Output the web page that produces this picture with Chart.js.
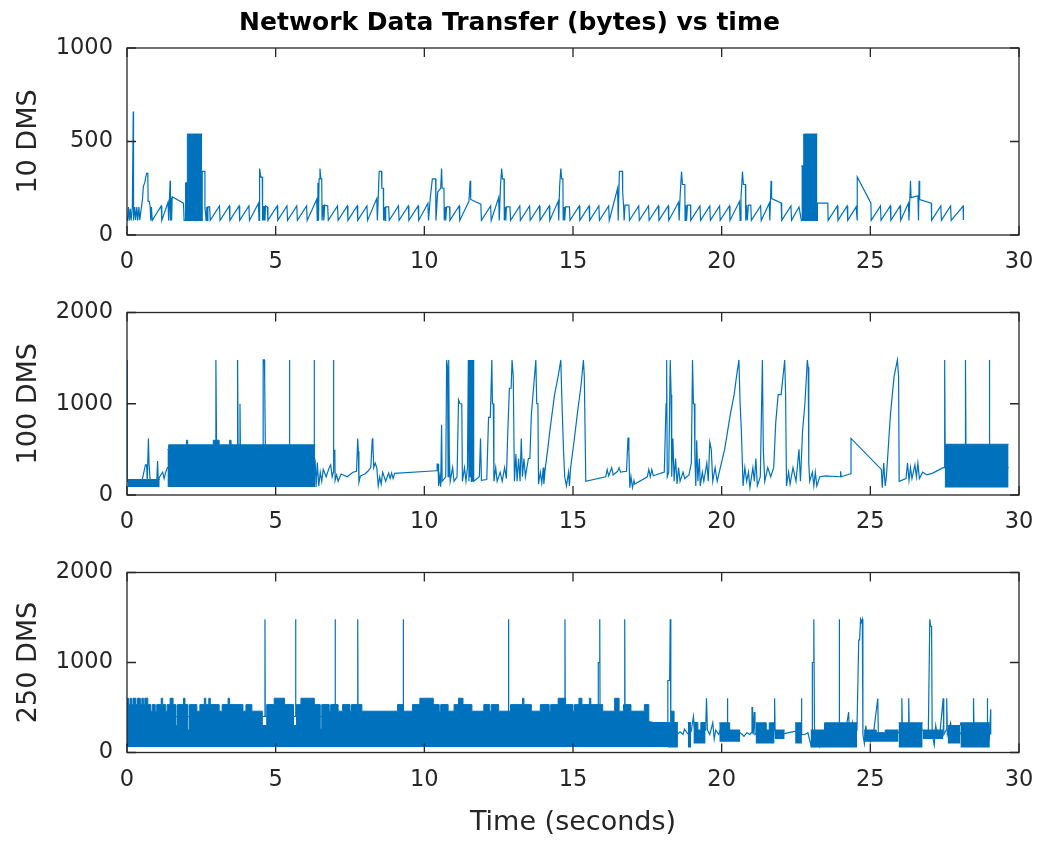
<!DOCTYPE html>
<html lang="en">

<head>
  <meta charset="UTF-8">
  <title>Network Data Transfer (bytes) vs time</title>
  <script src="https://cdn.jsdelivr.net/npm/chart.js"></script>
  <style>
    body {
      margin: 0;
      background: #fff;
      overflow: hidden;
    }

    #wrap {
      position: relative;
      width: 1039px;
      height: 841px;
      overflow: hidden;
    }

    #wrap canvas {
      position: absolute;
      left: 0;
    }
  </style>
</head>

<body>
  <div id="wrap">
    <canvas id="plot10" width="1146" height="285" style="top:0"></canvas>
    <canvas id="plot100" width="1146" height="260" style="top:285px"></canvas>
    <canvas id="plot250" width="1146" height="296" style="top:545px"></canvas>
  </div>
  <script>
    // time (s), bytes
    const dms10 = [
      [0, 100], [0.02, 75], [0.05, 150], [0.08, 78], [0.11, 140], [0.14, 78], [0.18, 150], [0.21, 660], [0.22, 78], [0.26, 150], [0.29, 80], [0.33, 150], [0.36, 78], [0.4, 150], [0.43, 80], [0.47, 130], [0.52, 190], [0.55, 260], [0.6, 280], [0.62, 300], [0.66, 330], [0.7, 330], [0.71, 180], [0.75, 180], [0.78, 150], [0.8, 78], [0.82, 150], [0.84, 150], [0.85, 78],
      [1.15, 155], [1.17, 78], [1.38, 175], [1.4, 78], [1.43, 200], [1.45, 290], [1.46, 78], [1.48, 200], [1.5, 78], [1.52, 205], [1.9, 170], [1.92, 78], [1.97, 78], [1.97, 280], [2.0, 78], [2.53, 78], [2.53, 340], [2.62, 340], [2.62, 150], [2.66, 78], [2.68, 150], [2.7, 78], [2.72, 150], [2.78, 150], [2.8, 78],
      [3.11, 155], [3.13, 78], [3.44, 155], [3.46, 78], [3.77, 155], [3.79, 78], [4.1, 155], [4.12, 78], [4.42, 170], [4.44, 78], [4.45, 175], [4.47, 355], [4.5, 310], [4.55, 310], [4.56, 78], [4.58, 155], [4.6, 78], [4.62, 155], [4.64, 78], [4.66, 155], [4.72, 150], [4.74, 78],
      [5.05, 155], [5.07, 78], [5.38, 155], [5.4, 78], [5.71, 155], [5.73, 78], [6.04, 155], [6.06, 78], [6.38, 190], [6.4, 78], [6.42, 280], [6.44, 78], [6.46, 300], [6.49, 355], [6.52, 300], [6.55, 300], [6.56, 78], [6.6, 160], [6.62, 78], [6.65, 160], [6.75, 155], [6.77, 78],
      [7.08, 155], [7.1, 78], [7.41, 155], [7.43, 78], [7.74, 155], [7.76, 78], [8.07, 155], [8.09, 78], [8.4, 195], [8.42, 78], [8.45, 200], [8.48, 340], [8.56, 340], [8.57, 250], [8.62, 250], [8.63, 78], [8.66, 150], [8.68, 78], [8.7, 150], [8.8, 150], [8.82, 78],
      [9.13, 155], [9.15, 78], [9.46, 155], [9.48, 78], [9.79, 155], [9.81, 78], [10.12, 170], [10.14, 78], [10.2, 200], [10.27, 300], [10.38, 300], [10.39, 78], [10.45, 230], [10.55, 250], [10.58, 355], [10.6, 250], [10.66, 250], [10.67, 78], [10.7, 150], [10.72, 78], [10.75, 150], [10.85, 150], [10.86, 78],
      [11.17, 155], [11.19, 78], [11.5, 180], [11.54, 290], [11.56, 190], [11.9, 165], [11.92, 78],
      [12.23, 155], [12.25, 78], [12.5, 200], [12.52, 78], [12.56, 260], [12.6, 355], [12.63, 300], [12.68, 300], [12.69, 78], [12.72, 150], [12.74, 78], [12.76, 150], [12.88, 150], [12.9, 78],
      [13.21, 155], [13.23, 78], [13.54, 155], [13.56, 78], [13.87, 155], [13.89, 78], [14.2, 155], [14.22, 78], [14.5, 180], [14.52, 78], [14.55, 260], [14.59, 355], [14.62, 300], [14.66, 300], [14.67, 78], [14.7, 150], [14.72, 78], [14.75, 150], [14.88, 150], [14.9, 78],
      [15.21, 155], [15.23, 78], [15.54, 155], [15.56, 78], [15.87, 155], [15.89, 78], [16.2, 155], [16.22, 78], [16.5, 250], [16.52, 78], [16.56, 340], [16.66, 340], [16.67, 230], [16.7, 160], [16.72, 78], [16.75, 160], [16.88, 160], [16.9, 78],
      [17.21, 155], [17.23, 78], [17.54, 155], [17.56, 78], [17.87, 155], [17.89, 78], [18.2, 155], [18.22, 78], [18.55, 175], [18.57, 78], [18.6, 200], [18.65, 340], [18.68, 270], [18.76, 270], [18.77, 78], [18.8, 160], [18.82, 78], [18.85, 160], [18.95, 160], [18.96, 78],
      [19.27, 155], [19.29, 78], [19.6, 155], [19.62, 78], [19.93, 155], [19.95, 78], [20.26, 155], [20.28, 78], [20.6, 180], [20.62, 78], [20.65, 200], [20.7, 340], [20.73, 270], [20.8, 270], [20.81, 78], [20.84, 160], [20.86, 78], [20.9, 160], [20.98, 160], [21.0, 78],
      [21.31, 155], [21.33, 78], [21.6, 170], [21.62, 78], [21.64, 180], [21.66, 290], [21.68, 195], [22.0, 172], [22.02, 78],
      [22.33, 155], [22.35, 78], [22.6, 150], [22.68, 78], [23.22, 78], [23.22, 170], [23.57, 170], [23.58, 78],
      [23.89, 155], [23.91, 78], [24.22, 155], [24.24, 78], [24.52, 150], [24.56, 78], [24.56, 310], [25.02, 170], [25.03, 78],
      [25.34, 155], [25.36, 78], [25.67, 155], [25.69, 78], [26.0, 155], [26.02, 78], [26.28, 170], [26.3, 78], [26.33, 200], [26.35, 290], [26.37, 200], [26.6, 210], [26.62, 78], [26.64, 290], [26.66, 190], [27.05, 170], [27.06, 78],
      [27.37, 155], [27.39, 78], [27.7, 155], [27.72, 78], [28.12, 155], [28.13, 80]
    ];
    // solid blocks where samples alternate too fast to separate: [time, upper edge]
    const block10a = [[1.97, 280], [2.03, 540], [2.53, 540]];
    const block10b = [[22.68, 370], [22.76, 540], [23.22, 540]];
    const floor10 = [78, 78];

    const dms100 = [
      [0, 1480], [0.01, 150], [0.5, 150], [0.62, 330], [0.66, 330], [0.68, 150], [0.72, 620], [0.74, 350], [0.78, 150], [1.0, 150], [1.03, 372], [1.05, 160], [1.1, 200], [1.2, 250], [1.25, 180], [1.3, 250], [1.36, 300],
      [2.99, 300], [2.99, 1480], [3.01, 620], [3.03, 300], [3.72, 300], [3.72, 1480], [3.74, 300], [3.8, 300], [3.8, 1000], [3.82, 300], [4.58, 300], [4.58, 1480], [4.62, 1480], [4.63, 1280], [4.66, 300], [5.46, 300], [5.46, 1480], [5.48, 300], [6.29, 300], [6.29, 1480], [6.31, 300],
      [6.33, 350], [6.36, 88], [6.4, 355], [6.45, 100], [6.5, 250], [6.55, 150], [6.6, 280], [6.7, 200], [6.8, 300], [6.85, 330], [6.9, 200], [6.94, 250], [6.94, 1480], [6.96, 489], [6.99, 489], [7.0, 160], [7.05, 220], [7.1, 150], [7.2, 230], [7.4, 200], [7.6, 250], [7.72, 260], [7.76, 620], [7.78, 479], [7.8, 140], [7.85, 210], [8.0, 230], [8.1, 260], [8.2, 300], [8.25, 620], [8.27, 550], [8.3, 300], [8.35, 350], [8.4, 300], [8.45, 100], [8.5, 200], [8.55, 120], [8.6, 250], [8.7, 150], [8.8, 240], [8.85, 180], [8.9, 240], [8.95, 180], [9.0, 238],
      [10.4, 266], [10.43, 266], [10.43, 340], [10.46, 340], [10.48, 100], [10.52, 200], [10.55, 90], [10.58, 769], [10.6, 150], [10.72, 200], [10.75, 1480], [10.78, 1400], [10.8, 200], [10.82, 1480], [10.84, 450], [10.87, 150], [10.95, 300], [11.0, 150], [11.1, 200], [11.15, 1042], [11.2, 1000], [11.26, 1000], [11.28, 150], [11.35, 300], [11.4, 150], [11.45, 300], [11.48, 1480], [11.5, 150], [11.52, 1480], [11.54, 200], [11.56, 1480], [11.58, 150], [11.6, 1480], [11.62, 150], [11.64, 1480], [11.66, 150], [11.85, 200], [11.89, 620], [11.92, 160], [12.1, 170], [12.16, 851], [12.22, 851], [12.27, 1480], [12.29, 1000], [12.32, 1000], [12.34, 150], [12.4, 300], [12.45, 150], [12.55, 250], [12.62, 150], [12.7, 300], [12.76, 180], [12.8, 620], [12.86, 1170], [12.92, 1170], [12.95, 1480], [12.99, 1300], [13.03, 150],
      [13.08, 450], [13.12, 150], [13.17, 400], [13.22, 150], [13.26, 620], [13.3, 200], [13.35, 400], [13.4, 200], [13.5, 400], [13.55, 400], [13.6, 886], [13.63, 1000], [13.68, 1200], [13.75, 1480], [13.78, 1000], [13.82, 1000], [13.84, 120], [13.9, 250], [13.95, 130], [14.0, 300], [14.02, 120], [14.07, 300], [14.15, 500], [14.22, 700], [14.3, 900], [14.38, 1100], [14.5, 1300], [14.59, 1480], [14.63, 1000], [14.68, 500], [14.72, 200], [14.78, 100], [14.85, 250], [14.88, 100], [14.92, 300], [15.04, 600], [15.15, 900], [15.27, 1200], [15.35, 1480], [15.38, 1300], [15.43, 150],
      [16.1, 200], [16.15, 280], [16.2, 210], [16.3, 300], [16.35, 220], [16.5, 260], [16.55, 300], [16.6, 250], [16.8, 260], [16.85, 631], [16.88, 480], [16.91, 80], [16.95, 200], [17.0, 80], [17.05, 160], [17.08, 120], [17.5, 200], [17.55, 280], [17.6, 200], [17.65, 280], [17.7, 210], [18.07, 250], [18.13, 1000], [18.15, 1480], [18.17, 200], [18.22, 250], [18.27, 1480], [18.3, 1100], [18.32, 200], [18.36, 620], [18.4, 150], [18.45, 400], [18.5, 120], [18.55, 300], [18.6, 150], [18.7, 250], [18.76, 180], [18.9, 220], [18.98, 350],
      [19.02, 1480], [19.05, 1000], [19.08, 1000], [19.1, 400], [19.13, 100], [19.16, 600], [19.2, 150], [19.25, 400], [19.28, 100], [19.35, 250], [19.4, 150], [19.5, 350], [19.55, 150], [19.6, 580], [19.65, 500], [19.7, 150], [19.78, 300], [19.85, 150], [19.92, 250], [20.1, 500], [20.2, 700], [20.3, 900], [20.42, 1100], [20.5, 1300], [20.58, 1480], [20.62, 1000], [20.66, 727], [20.72, 100], [20.78, 300], [20.84, 150], [20.9, 250], [20.95, 80], [21.05, 300], [21.1, 150], [21.15, 400], [21.2, 100], [21.3, 200], [21.37, 1480], [21.4, 500], [21.45, 150], [21.55, 300], [21.65, 200], [21.75, 300], [21.82, 800], [21.9, 1100], [22.0, 1100], [22.12, 1480], [22.15, 1100], [22.18, 100],
      [22.25, 250], [22.3, 120], [22.4, 300], [22.5, 150], [22.6, 500], [22.65, 150], [22.72, 700], [22.8, 1000], [22.88, 1480], [22.91, 1400], [22.93, 350], [22.96, 150], [23.05, 250], [23.1, 100], [23.15, 250], [23.2, 100], [23.3, 200], [23.5, 210], [23.98, 200], [24.0, 260], [24.02, 200], [24.3, 230], [24.35, 230], [24.35, 620], [25.37, 280], [25.4, 80], [25.45, 350], [25.5, 100], [25.54, 200], [25.6, 500], [25.68, 900], [25.74, 1100], [25.8, 1300], [25.91, 1480], [25.95, 1300], [25.97, 150],
      [26.2, 180], [26.25, 350], [26.3, 160], [26.35, 300], [26.4, 180], [26.5, 330], [26.55, 200], [26.6, 350], [26.65, 180], [26.76, 250], [26.9, 220], [27.1, 240], [27.45, 300], [27.5, 300], [27.5, 1480], [27.52, 300], [28.2, 300], [28.2, 1480], [28.22, 300], [29.0, 300], [29.0, 1480], [29.02, 300], [29.65, 300]
    ];
    const block100a = [[0.02, 170], [1.1, 170]];
    const block100b = [[1.36, 500], [1.4, 550], [2.0, 600], [2.04, 550], [2.9, 600], [3.1, 550], [3.45, 600], [3.5, 550], [6.33, 550]];
    const block100c = [[27.5, 556], [29.65, 556]];
    const floor100 = [88, 88, 82];

    const dms250 = [
      [0, 400], [4.64, 400], [4.64, 1480], [4.65, 400], [5.67, 400], [5.67, 1480], [5.68, 400], [7.0, 400], [7.0, 1480], [7.01, 400], [7.76, 400], [7.76, 1480], [7.77, 400], [9.29, 400], [9.29, 1480], [9.3, 400], [12.83, 400], [12.83, 1480], [12.84, 400], [14.73, 400], [14.73, 1480], [14.74, 400], [15.85, 400], [15.85, 1000], [15.88, 1000], [15.9, 1480], [15.91, 400], [16.74, 400], [16.74, 1480], [16.75, 400], [18.19, 300], [18.19, 800], [18.25, 800], [18.27, 1480], [18.29, 200],
      [18.32, 70], [18.35, 450], [18.38, 150], [18.42, 330], [18.46, 70], [18.5, 200], [18.6, 230], [18.7, 200], [18.75, 260], [18.85, 210], [18.9, 200], [18.98, 240], [19.05, 400], [19.1, 200], [19.17, 200], [19.46, 250], [19.49, 603], [19.52, 250], [19.6, 200], [19.7, 330], [19.75, 150], [19.8, 250], [19.9, 200], [19.95, 250], [20.19, 250], [20.19, 603], [20.21, 250], [20.62, 220],
      [20.7, 200], [20.75, 180], [20.85, 220], [20.95, 200], [21.0, 220], [21.02, 500], [21.04, 500], [21.06, 200], [21.1, 450], [21.12, 200], [21.2, 220], [21.5, 220], [21.78, 250], [21.78, 603], [21.8, 200], [21.9, 210], [22.0, 200], [22.1, 210], [22.68, 250], [22.68, 603], [22.7, 200], [22.8, 200], [22.9, 220], [23.0, 80], [23.05, 200], [23.05, 1000], [23.08, 1000], [23.1, 1480], [23.12, 300], [23.15, 70], [23.2, 200], [23.3, 70], [23.35, 200], [23.46, 200],
      [23.5, 200], [23.95, 200], [23.95, 1480], [23.97, 200], [24.1, 200], [24.2, 300], [24.27, 450], [24.3, 150], [24.4, 330], [24.45, 150], [24.55, 250], [24.61, 1250], [24.64, 1250], [24.67, 1480], [24.7, 1450], [24.73, 1480], [24.75, 200], [24.8, 100], [24.85, 300], [24.9, 150], [24.95, 200], [25.0, 120], [25.1, 200], [25.25, 600], [25.27, 200], [25.4, 220], [25.5, 200], [25.6, 230], [25.7, 200], [25.9, 210],
      [26.06, 250], [26.06, 603], [26.08, 250], [26.29, 250], [26.29, 603], [26.31, 250], [26.76, 250], [26.85, 200], [26.95, 210], [27.0, 1480], [27.03, 1400], [27.06, 1400], [27.08, 200], [27.15, 80], [27.2, 300], [27.25, 200], [27.35, 250], [27.45, 603], [27.47, 200], [27.55, 250], [27.57, 603], [27.59, 200], [27.7, 330], [27.75, 200], [27.85, 250], [28.0, 200],
      [28.05, 220], [28.47, 220], [28.47, 603], [28.49, 220], [28.93, 220], [28.93, 603], [28.95, 200], [29.0, 150], [29.05, 480], [29.05, 200]
    ];
    const block250main = [
      [0, 603], [0.05, 532], [0.1, 603], [0.15, 532], [0.2, 603], [0.3, 532], [0.35, 603], [0.45, 532], [0.5, 603], [0.55, 532], [0.6, 603], [0.7, 532], [0.8, 459], [0.85, 532], [0.95, 459], [1.0, 532], [1.15, 603], [1.2, 532], [1.3, 459], [1.35, 532], [1.45, 603], [1.55, 532], [1.65, 300], [1.7, 532], [1.9, 603], [1.95, 532], [2.05, 250], [2.1, 532], [2.35, 459], [2.45, 532], [2.6, 603], [2.65, 532], [2.75, 603], [2.8, 532], [3.1, 459], [3.2, 532], [3.4, 603], [3.45, 532], [3.9, 459], [4.0, 532], [4.2, 459], [4.55, 300], [4.7, 532], [4.95, 603], [5.3, 532], [5.6, 300], [5.7, 532], [5.85, 603], [6.3, 532], [6.5, 260], [6.55, 532], [6.8, 459], [6.85, 532], [7.1, 459], [7.25, 532], [7.5, 459], [7.55, 532], [7.9, 459], [8.6, 459], [9.1, 532], [9.3, 459], [9.6, 532], [9.85, 603], [10.3, 532], [10.5, 459], [10.55, 532], [10.8, 459], [11.0, 532], [11.15, 603], [11.3, 532], [11.6, 459], [12.0, 532], [12.2, 459], [12.25, 532], [12.5, 459], [12.9, 532], [13.3, 603], [13.35, 532], [13.6, 459], [13.9, 532], [14.2, 459], [14.25, 532], [14.5, 603], [14.75, 532], [15.0, 459], [15.05, 532], [15.2, 603], [15.3, 532], [15.55, 603], [15.6, 532], [16.0, 459], [16.4, 603], [16.55, 459], [16.7, 532], [16.95, 459], [17.4, 532], [17.55, 333], [18.2, 333]
    ];
    const block250b = [[18.19, 333], [18.3, 459], [18.4, 333], [18.53, 333]];
    const block250c = [[18.86, 333], [18.97, 333]];
    const block250d = [[19.05, 333], [19.2, 250], [19.3, 333], [19.46, 333]];
    const block250e = [[19.92, 330], [20.27, 250], [20.62, 250]];
    const block250f = [[21.14, 330], [21.5, 250], [21.6, 330], [21.78, 330]];
    const block250g = [[21.78, 250], [22.12, 250]];
    const block250h = [[22.47, 330], [22.7, 330]];
    const block250i = [[22.99, 250], [23.46, 330], [24.56, 330]];
    const block250j = [[24.79, 250], [25.2, 220], [25.5, 250], [25.95, 250]];
    const block250k = [[25.95, 330], [26.76, 330]];
    const block250l = [[26.76, 250], [27.45, 300]];
    const block250m = [[27.6, 300], [28.03, 330]];
    const block250n = [[28.03, 330], [29.02, 330]];
    const floor250 = [60, 56, 56, 100, 120, 100, 150, 100, 56, 120, 56, 150, 100, 56];

    const LINE = '#0072BD';
    const AXIS = '#262626';
    const FONT = 'DejaVu Sans';

    const toXY = pts => pts.map(p => ({ x: p[0], y: p[1] }));

    // MATLAB style box with inward ticks on all four sides
    const matlabBox = {
      id: 'matlabBox',
      afterDatasetsDraw(chart) {
        const { ctx, chartArea: a, scales: { x, y } } = chart;
        const tl = 9;
        ctx.save();
        ctx.strokeStyle = AXIS;
        ctx.lineWidth = 1.3;
        ctx.beginPath();
        x.ticks.forEach(t => {
          const px = x.getPixelForValue(t.value);
          ctx.moveTo(px, a.bottom); ctx.lineTo(px, a.bottom - tl);
          ctx.moveTo(px, a.top); ctx.lineTo(px, a.top + tl);
        });
        y.ticks.forEach(t => {
          const py = y.getPixelForValue(t.value);
          ctx.moveTo(a.left, py); ctx.lineTo(a.left + tl, py);
          ctx.moveTo(a.right, py); ctx.lineTo(a.right - tl, py);
        });
        ctx.stroke();
        ctx.strokeRect(a.left, a.top, a.right - a.left, a.bottom - a.top);
        ctx.restore();
      }
    };

    function subplot(id, o) {
      const datasets = o.blocks.map((b, i) => ({
        data: toXY(b),
        stepped: true,
        fill: { value: o.floors[i] },
        borderColor: LINE,
        backgroundColor: LINE,
        borderWidth: 1,
        pointRadius: 0
      }));
      datasets.push({
        data: toXY(o.line),
        borderColor: LINE,
        borderWidth: 1.2,
        pointRadius: 0,
        fill: false,
        tension: 0
      });

      return new Chart(document.getElementById(id), {
        type: 'line',
        data: { datasets },
        plugins: [matlabBox],
        options: {
          responsive: false,
          animation: false,
          layout: { padding: { left: 0, right: 127, top: o.top, bottom: 0 } },
          plugins: {
            legend: { display: false },
            tooltip: { enabled: false },
            title: {
              display: !!o.title,
              text: o.title || '',
              color: '#000',
              font: { family: FONT, size: 25, weight: 'bold' },
              padding: { top: 8, bottom: 10 }
            }
          },
          scales: {
            x: {
              type: 'linear',
              min: 0,
              max: 30,
              grid: { display: false, drawTicks: false },
              border: { display: false },
              ticks: {
                stepSize: 5,
                maxRotation: 0,
                autoSkip: false,
                padding: 14,
                color: AXIS,
                font: { family: FONT, size: 22.5 }
              },
              title: {
                display: !!o.xTitle,
                text: o.xTitle || '',
                color: AXIS,
                font: { family: FONT, size: 27 },
                padding: { top: 0, bottom: 2 }
              },
              afterFit: s => { s.height = o.xHeight; }
            },
            y: {
              min: 0,
              max: o.yMax,
              grid: { display: false, drawTicks: false },
              border: { display: false },
              ticks: {
                stepSize: o.yStep,
                padding: 14,
                color: AXIS,
                font: { family: FONT, size: 22.5 },
                callback: v => String(v)
              },
              title: {
                display: true,
                text: o.yTitle,
                color: AXIS,
                font: { family: FONT, size: 27 },
                padding: { top: 13, bottom: 0 }
              },
              afterFit: s => { s.width = 127; }
            }
          }
        }
      });
    }

    subplot('plot10', {
      title: 'Network Data Transfer (bytes) vs time',
      yTitle: '10 DMS', yMax: 1000, yStep: 500,
      line: dms10, blocks: [block10a, block10b], floors: floor10,
      top: 0, xHeight: 50
    });

    subplot('plot100', {
      yTitle: '100 DMS', yMax: 2000, yStep: 1000,
      line: dms100, blocks: [block100a, block100b, block100c], floors: floor100,
      top: 22, xHeight: 50
    });

    subplot('plot250', {
      yTitle: '250 DMS', yMax: 2000, yStep: 1000, xTitle: 'Time (seconds)',
      line: dms250,
      blocks: [block250main, block250b, block250c, block250d, block250e, block250f, block250g, block250h, block250i, block250j, block250k, block250l, block250m, block250n],
      floors: floor250,
      top: 22.5, xHeight: 88.5
    });
  </script>
</body>

</html>
